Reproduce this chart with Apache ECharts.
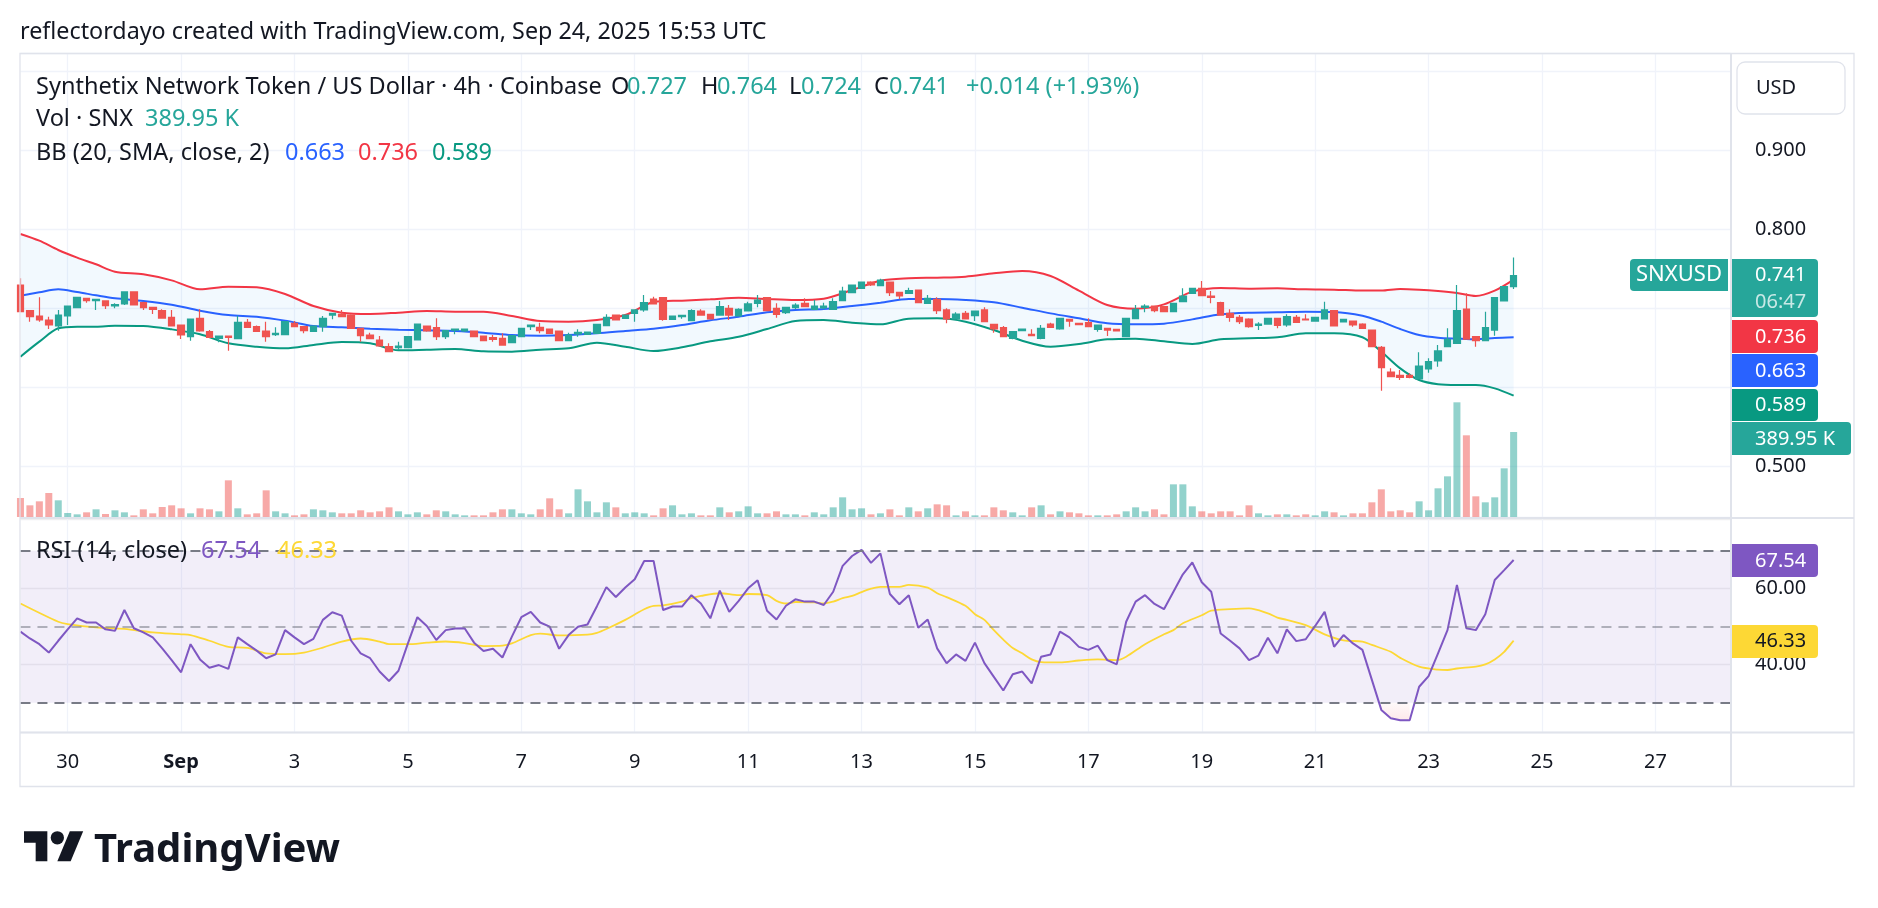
<!DOCTYPE html>
<html>
<head>
<meta charset="utf-8">
<script src="https://cdn.jsdelivr.net/npm/echarts@6/dist/echarts.min.js"></script>
<style>
  html, body { margin: 0; padding: 0; background: #fff; }
  #chart { width: 1878px; height: 908px; }
</style>
</head>
<body>
<div id="chart"></div>
<script>
// SNX/USD 4h, Coinbase, Aug 29 04:00 -> Sep 24 12:00 UTC (bar 0 .. 158)
// [open, high, low, close]
const ohlc = [
  [.7291,.7376,.6950,.6954],[.6966,.6975,.6827,.6890],[.6899,.7135,.6827,.6848],[.6848,.6890,.6734,.6785],[.6772,.6975,.6713,.6911],
  [.6899,.7025,.6785,.7025],[.7004,.7135,.7004,.7135],[.7122,.7131,.7067,.7093],[.7093,.7110,.6975,.7110],[.7089,.7089,.6987,.7030],
  [.7025,.7059,.6996,.7042],[.7051,.7203,.7038,.7203],[.7203,.7203,.7038,.7038],[.7067,.7080,.6975,.7004],[.7008,.7008,.6924,.6983],
  [.6966,.6983,.6865,.6873],[.6882,.6975,.6772,.6772],[.6785,.6785,.6607,.6658],[.6637,.6861,.6586,.6861],[.6869,.6983,.6700,.6709],
  [.6700,.6721,.6629,.6629],[.6616,.6645,.6565,.6645],[.6645,.6645,.6460,.6629],[.6612,.6903,.6612,.6819],[.6819,.6861,.6755,.6755],
  [.6764,.6777,.6705,.6705],[.6709,.6827,.6574,.6637],[.6662,.6755,.6645,.6679],[.6662,.6827,.6662,.6827],[.6806,.6835,.6755,.6764],
  [.6764,.6764,.6679,.6713],[.6705,.6780,.6700,.6772],[.6764,.6899,.6700,.6869],[.6911,.6932,.6856,.6932],[.6920,.6975,.6890,.6890],
  [.6911,.6920,.6738,.6743],[.6743,.6743,.6574,.6650],[.6658,.6688,.6607,.6612],[.6595,.6645,.6510,.6519],[.6510,.6553,.6447,.6447],
  [.6498,.6574,.6468,.6519],[.6498,.6645,.6498,.6637],[.6595,.6797,.6595,.6797],[.6772,.6772,.6700,.6709],[.6751,.6869,.6595,.6637],
  [.6637,.6713,.6607,.6713],[.6721,.6734,.6667,.6734],[.6709,.6734,.6696,.6734],[.6709,.6709,.6637,.6637],[.6645,.6645,.6586,.6586],
  [.6624,.6658,.6574,.6603],[.6616,.6679,.6531,.6531],[.6561,.6650,.6561,.6650],[.6637,.6743,.6637,.6743],[.6764,.6785,.6721,.6785],
  [.6755,.6814,.6679,.6713],[.6734,.6734,.6679,.6679],[.6709,.6709,.6586,.6586],[.6586,.6688,.6586,.6658],[.6671,.6730,.6637,.6692],
  [.6667,.6696,.6667,.6696],[.6679,.6793,.6679,.6793],[.6776,.6920,.6776,.6882],[.6911,.6911,.6848,.6848],[.6869,.6911,.6869,.6911],
  [.6932,.6975,.6827,.6975],[.6975,.7164,.6954,.7067],[.7114,.7143,.7051,.7051],[.7131,.7131,.6840,.6856],[.6856,.6899,.6856,.6899],
  [.6890,.6907,.6865,.6907],[.6840,.6983,.6840,.6966],[.6962,.6983,.6911,.6911],[.6920,.6920,.6861,.6861],[.6911,.7089,.6911,.7017],
  [.6996,.7038,.6848,.6911],[.6899,.6996,.6899,.6983],[.6962,.7080,.6962,.7051],[.7059,.7164,.7008,.7101],[.7131,.7131,.6966,.6966],
  [.6996,.7059,.6878,.6920],[.6941,.7008,.6924,.7008],[.7004,.7059,.6983,.7038],[.7059,.7122,.7017,.7017],[.6983,.7101,.6983,.7025],
  [.7000,.7067,.6983,.7025],[.6983,.7122,.6983,.7080],[.7093,.7270,.7093,.7215],[.7194,.7291,.7194,.7291],[.7249,.7329,.7249,.7329],
  [.7329,.7340,.7280,.7291],[.7283,.7371,.7283,.7354],[.7329,.7329,.7152,.7194],[.7198,.7198,.7114,.7152],[.7186,.7257,.7186,.7220],
  [.7228,.7228,.7067,.7067],[.7059,.7164,.7059,.7122],[.7110,.7135,.6924,.6966],[.6975,.6996,.6806,.6861],[.6861,.6945,.6861,.6924],
  [.6932,.6962,.6861,.6861],[.6903,.6962,.6835,.6962],[.6975,.7008,.6827,.6827],[.6793,.6793,.6688,.6734],[.6751,.6772,.6637,.6637],
  [.6616,.6700,.6603,.6700],[.6713,.6734,.6713,.6734],[.6667,.6730,.6650,.6650],[.6616,.6785,.6603,.6743],[.6797,.6814,.6755,.6755],
  [.6734,.6877,.6725,.6869],[.6856,.6856,.6764,.6835],[.6806,.6814,.6785,.6789],[.6814,.6869,.6764,.6764],[.6730,.6785,.6700,.6785],
  [.6743,.6743,.6645,.6721],[.6730,.6730,.6709,.6709],[.6637,.6869,.6637,.6869],[.6865,.7038,.6865,.6983],[.7008,.7046,.6945,.7025],
  [.7025,.7025,.6945,.6966],[.7017,.7017,.6954,.6954],[.6954,.7059,.6954,.7059],[.7080,.7249,.7080,.7152],[.7186,.7249,.7186,.7249],
  [.7249,.7342,.7156,.7156],[.7152,.7215,.7059,.7135],[.7067,.7080,.6911,.6911],[.6932,.6983,.6827,.6882],[.6882,.6911,.6797,.6827],
  [.6861,.6869,.6751,.6764],[.6781,.6819,.6721,.6797],[.6797,.6869,.6797,.6869],[.6869,.6869,.6743,.6781],[.6785,.6920,.6764,.6890],
  [.6882,.6911,.6819,.6819],[.6861,.6920,.6848,.6848],[.6835,.6882,.6835,.6882],[.6861,.7080,.6861,.6975],[.6966,.6966,.6772,.6772],
  [.6823,.6856,.6823,.6856],[.6835,.6835,.6764,.6785],[.6797,.6806,.6743,.6743],[.6721,.6721,.6510,.6510],[.6502,.6519,.5953,.6245],
  [.6190,.6236,.6131,.6131],[.6148,.6215,.6088,.6122],[.6148,.6173,.6110,.6122],[.6101,.6439,.6101,.6266],[.6228,.6363,.6181,.6321],
  [.6329,.6531,.6257,.6456],[.6510,.6743,.6510,.6603],[.6553,.7291,.6544,.6966],[.6987,.7186,.6607,.6607],[.6637,.6637,.6510,.6586],
  [.6586,.6954,.6586,.6751],[.6721,.7131,.6650,.7131],[.7089,.7280,.7089,.7270],[.727,.764,.724,.741]
];

// volume, thousands of SNX
const volK = [
  87.2,53.5,71.9,110.1,76.5,18.3,12.2,21.4,35.2,13.8, 30.6,21.4,7.6,35.2,16.8,45.9,53.5,39.8,16.8,39.8,
  35.2,26.0,168.2,39.8,12.2,16.8,122.3,26.0,16.8,7.6, 12.2,35.2,30.6,21.4,16.8,16.8,30.6,21.4,26.0,44.3,
  26.0,12.2,21.4,12.2,30.6,26.0,12.2,7.6,7.6,7.6, 21.4,35.2,35.2,16.8,12.2,35.2,85.6,35.2,16.8,126.9,
  71.9,21.4,67.3,44.3,16.8,21.4,16.8,7.6,39.8,53.5, 12.2,16.8,7.6,7.6,44.3,21.4,26.0,48.9,16.8,16.8,
  26.0,12.2,12.2,7.6,21.4,12.2,44.3,90.2,35.2,39.8, 12.2,16.8,35.2,7.6,44.3,26.0,39.8,58.1,53.5,7.6,
  26.0,7.6,7.6,44.3,30.6,21.4,7.6,44.3,53.5,12.2, 26.0,21.4,16.8,7.6,7.6,7.6,12.2,26.0,44.3,26.0,
  35.2,12.2,149.8,149.8,48.9,26.0,16.8,26.0,26.0,7.6, 53.5,16.8,7.6,12.2,12.2,7.6,12.2,7.6,26.0,21.4,
  7.6,16.8,16.8,67.3,126.9,26.0,30.6,21.4,71.9,30.6, 131.5,186.5,526.0,374.6,94.8,67.3,90.2,223.2,389.95
];

// Bollinger Bands (20, SMA, close, 2) read at these bars
const bbIdx = [0,2,4,6,8,10,13,16,19,22,25,28,31,34,37,40,43,46,49,52,55,58,61,64,67,70,73,76,79,82,
  85,88,91,94,97,100,103,106,109,112,115,118,121,124,127,130,133,136,139,142,144,146,148,150,152,154,156,158];
const bbUpper = [.7937,.7852,.7734,.7637,.7553,.7460,.7426,.7350,.7236,.7270,.7262,.7177,.7025,.6941,.6924,
  .6941,.6962,.6954,.6954,.6899,.6835,.6827,.6848,.6911,.7076,.7093,.7110,.7131,.7114,.7101,.7118,.7228,.7346,
  .7376,.7384,.7397,.7439,.7468,.7405,.7220,.7038,.6991,.7046,.7207,.7253,.7245,.7249,.7236,.7232,.7220,.7220,
  .7241,.7232,.7215,.7190,.7152,.7220,.7360];
const bbMid = [.7156,.7198,.7236,.7202,.7160,.7122,.7089,.7042,.6966,.6911,.6890,.6840,.6772,.6755,.6738,
  .6726,.6717,.6709,.6688,.6658,.6650,.6658,.6679,.6709,.6738,.6785,.6844,.6890,.6945,.6975,.6987,.7025,.7067,
  .7114,.7114,.7101,.7072,.7004,.6932,.6869,.6806,.6793,.6802,.6856,.6920,.6941,.6945,.6954,.6950,.6903,.6827,
  .6734,.6658,.6624,.6612,.6603,.6620,.6630];
const bbLower = [.6384,.6574,.6743,.6764,.6764,.6776,.6772,.6730,.6667,.6553,.6510,.6489,.6532,.6569,.6553,
  .6464,.6472,.6481,.6451,.6447,.6472,.6489,.6561,.6510,.6456,.6502,.6578,.6637,.6734,.6835,.6848,.6814,.6793,
  .6865,.6869,.6827,.6721,.6586,.6510,.6544,.6603,.6612,.6578,.6544,.6603,.6616,.6629,.6679,.6679,.6629,.6447,
  .6236,.6088,.6034,.6025,.6025,.5983,.5890];

// RSI (14, close), one value per bar
const rsi14 = [
  48.7,46.9,45.4,43.2,46.3,49.3,52.2,51.1,51.1,49.3, 48.9,54.4,49.6,48.5,47.2,44.3,41.2,38.0,45.4,41.4,
  39.2,39.9,38.9,47.2,45.4,43.7,41.7,42.7,49.1,47.2, 45.4,46.8,51.8,53.8,52.9,46.3,43.0,41.7,38.2,35.7,
  38.4,45.6,52.5,50.2,46.5,49.1,49.5,49.6,45.8,43.6, 44.2,41.9,47.4,52.5,53.9,51.1,50.0,44.2,47.8,50.0,
  50.6,55.4,60.4,57.8,60.3,62.5,67.3,67.3,54.4,55.3, 55.3,58.3,56.1,52.2,59.5,53.9,56.8,60.1,62.2,54.2,
  51.9,55.5,57.2,56.6,56.6,55.7,59.2,66.0,68.6,70.2, 66.8,69.3,58.6,55.9,58.3,49.7,51.9,44.3,40.4,42.7,
  41.0,45.8,40.4,36.8,33.2,37.5,38.2,35.1,42.1,42.7, 48.7,47.2,44.7,43.9,45.0,41.2,40.1,51.3,56.6,58.3,
  56.0,54.6,59.2,63.8,66.9,61.7,59.2,48.2,46.3,44.3, 41.2,42.4,47.1,43.0,49.3,46.2,46.7,50.2,53.9,44.7,
  47.8,45.6,43.9,36.0,28.1,25.9,25.4,25.4,34.2,37.0, 43.0,49.1,61.0,49.6,49.1,53.3,62.3,64.9,67.54
];

// RSI-based MA, [bar, value]
const rsiMa = [[0,56.1],[4,51.3],[5,50.7],[8,49.8],[11,49.4],[14,48.5],[17,48.0],[18,47.8],[20,46.3],[22,44.7],
  [24,44.4],[26,43.0],[28,42.8],[30,43.2],[32,44.5],[34,46.1],[36,46.9],[38,46.1],[39,45.4],[41,45.4],[43,45.8],
  [45,46.1],[47,45.7],[49,44.9],[51,45.0],[52,45.6],[54,47.8],[55,48.2],[57,47.7],[60,47.9],[61,48.4],[62,49.4],
  [64,51.8],[65,53.2],[66,54.6],[67,55.5],[68,55.6],[70,56.6],[71,57.5],[72,58.1],[74,58.8],[76,58.3],[77,58.6],
  [79,58.3],[80,56.8],[81,56.1],[82,56.5],[84,56.4],[85,56.1],[86,56.6],[87,57.5],[88,58.1],[89,59.1],[90,60.0],
  [91,60.5],[93,60.5],[94,61.0],[96,60.3],[97,58.8],[98,57.8],[100,55.5],[101,53.3],[102,51.8],[103,49.1],
  [104,46.6],[105,44.4],[106,43.0],[107,41.4],[108,40.7],[110,40.6],[112,41.1],[114,41.4],[116,41.2],[117,42.1],
  [119,45.4],[121,48.0],[122,49.1],[123,50.9],[125,53.0],[126,54.2],[128,54.6],[130,54.8],[132,53.5],[133,52.4],
  [134,51.8],[136,50.4],[138,48.0],[140,46.4],[142,46.1],[143,45.2],[145,43.4],[146,41.8],[148,39.5],[150,38.7],
  [151,38.6],[152,39.0],[154,39.5],[155,40.1],[156,41.4],[157,43.4],[158,46.33]];

// time axis: bar index of each day-start tick and its text
const tickIdx = [5,17,29,41,53,65,77,89,101,113,125,137,149,161,173];
const tickText = ['30','Sep','3','5','7','9','11','13','15','17','19','21','23','25','27'];

// price-scale labels hidden behind the coloured last-value tags
const hiddenPriceLabels = ['0.600', '0.700', '1.000'];

const FONT = '"Noto Sans", Roboto, sans-serif';
const TXT = '#131722';
const UP = '#26a69a', DOWN = '#ef5350';
const GRIDC = '#f0f3fa';
const LEG = 23.5; // legend font size

const PLOT_L = 20.45, PLOT_R = 1731;
const MAIN_T = 53, MAIN_B = 517, RSI_T = 519, RSI_B = 732;
const NCAT = 182; // visible bar slots incl. empty space on the right

const cats = Array.from({ length: NCAT }, (_, i) => String(i));
const isTick = (i) => tickIdx.indexOf(i) >= 0;

const chart = echarts.init(document.getElementById('chart'), null, { renderer: 'canvas' });

function xAx(grid, labels) {
  return {
    type: 'category', gridIndex: grid, data: cats, boundaryGap: false,
    axisLine: { show: false }, axisTick: { show: false },
    axisLabel: labels ? {
      show: true, interval: (i) => isTick(i), margin: 20,
      fontSize: 20, color: TXT, fontFamily: FONT,
      formatter: (v) => {
        const t = tickText[tickIdx.indexOf(+v)];
        return t === 'Sep' ? '{b|Sep}' : t;
      },
      rich: { b: { fontWeight: 'bold', fontSize: 20, color: TXT, fontFamily: FONT } }
    } : { show: false },
    splitLine: grid === 1 ? { show: false } : { show: true, interval: (i) => isTick(i), lineStyle: { color: GRIDC, width: 1.3 } }
  };
}

function txt(x, y, s, color, size, weight, align) {
  return {
    type: 'text', x: x, y: y, z: 100,
    style: {
      text: s, fill: color, align: align || 'left', verticalAlign: 'middle',
      font: (weight || 'normal') + ' ' + size + 'px ' + FONT
    }
  };
}
function box(x, y, w, h, color, r) {
  return { type: 'rect', z: 99, shape: { x: x, y: y, width: w, height: h, r: r || 0 }, style: { fill: color } };
}
function hline(x1, x2, y, color, w) {
  return { type: 'line', z: 98, shape: { x1: x1, y1: y, x2: x2, y2: y }, style: { stroke: color, lineWidth: w || 1 } };
}
function vline(x, y1, y2, color, w) {
  return { type: 'line', z: 98, shape: { x1: x, y1: y1, x2: x, y2: y2 }, style: { stroke: color, lineWidth: w || 1 } };
}

const LOGO_S = 1.667, LOGO_X = 24, LOGO_Y = 824.5;

const graphics = [
  txt(20, 32, 'reflectordayo created with TradingView.com, Sep 24, 2025 15:53 UTC', TXT, 23.3),
  // frame and pane separators
  { type: 'rect', z: 98, shape: { x: 20, y: 53.5, width: 1834, height: 733 }, style: { fill: null, stroke: '#e0e3eb', lineWidth: 1.3 } },
  vline(1731, 53.5, 786.5, '#e0e3eb', 2),
  hline(20, 1854, 518, '#e0e3eb', 2),
  hline(20, 1854, 732.5, '#e0e3eb', 2),
  // legend
  txt(36, 87, 'Synthetix Network Token / US Dollar · 4h · Coinbase', TXT, LEG),
  txt(611, 87, 'O', TXT, LEG), txt(627, 87, '0.727', UP, LEG),
  txt(701, 87, 'H', TXT, LEG), txt(717, 87, '0.764', UP, LEG),
  txt(789, 87, 'L', TXT, LEG), txt(801, 87, '0.724', UP, LEG),
  txt(874, 87, 'C', TXT, LEG), txt(889, 87, '0.741', UP, LEG),
  txt(966, 87, '+0.014 (+1.93%)', UP, LEG),
  txt(36, 119, 'Vol · SNX', TXT, LEG), txt(145, 119, '389.95 K', UP, LEG),
  txt(36, 153, 'BB (20, SMA, close, 2)', TXT, LEG),
  txt(285, 153, '0.663', '#2962ff', LEG), txt(358, 153, '0.736', '#f23645', LEG), txt(432, 153, '0.589', '#089981', LEG),
  txt(36, 551, 'RSI (14, close)', TXT, LEG),
  txt(201, 551, '67.54', '#7e57c2', LEG), txt(277, 551, '46.33', '#fdd835', LEG),
  // USD button
  { type: 'rect', z: 99, shape: { x: 1737, y: 62, width: 108, height: 52, r: 8 }, style: { fill: '#fff', stroke: '#e0e3eb', lineWidth: 1.3 } },
  txt(1756, 88, 'USD', TXT, 20),
  // symbol + last price
  box(1630, 259, 98, 32, UP, [4, 0, 0, 4]), txt(1679, 275, 'SNXUSD', '#fff', 22, 'normal', 'center'),
  box(1732, 259, 86, 58, UP, [0, 4, 4, 0]), txt(1755, 275, '0.741', '#fff', 20), txt(1755, 302, '06:47', 'rgba(255,255,255,0.75)', 20),
  box(1732, 320, 86, 33, '#f23645', [0, 4, 4, 0]), txt(1755, 337, '0.736', '#fff', 20),
  box(1732, 354, 86, 33, '#2962ff', [0, 4, 4, 0]), txt(1755, 371, '0.663', '#fff', 20),
  box(1732, 389, 86, 32, '#089981', [0, 4, 4, 0]), txt(1755, 405, '0.589', '#fff', 20),
  box(1732, 422, 119, 33, UP, [0, 4, 4, 0]), txt(1755, 439, '389.95 K', '#fff', 20),
  box(1732, 544, 86, 33, '#7e57c2', [0, 4, 4, 0]), txt(1755, 561, '67.54', '#fff', 20),
  box(1732, 625, 86, 33, '#fdd835', [0, 4, 4, 0]), txt(1755, 641, '46.33', TXT, 20),
  // TradingView logo
  {
    type: 'polygon', z: 100, x: LOGO_X, y: LOGO_Y, scaleX: LOGO_S, scaleY: LOGO_S,
    shape: { points: [[0, 4], [14, 4], [14, 22], [7, 22], [7, 11], [0, 11]] }, style: { fill: TXT }
  },
  {
    type: 'polygon', z: 100, x: LOGO_X, y: LOGO_Y, scaleX: LOGO_S, scaleY: LOGO_S,
    shape: { points: [[20, 22], [27.5, 4], [35.5, 4], [28, 22]] }, style: { fill: TXT }
  },
  { type: 'circle', z: 100, shape: { cx: LOGO_X + 20 * LOGO_S, cy: LOGO_Y + 8 * LOGO_S, r: 4 * LOGO_S }, style: { fill: TXT } },
  txt(94, 851, 'TradingView', TXT, 40, 'bold')
];

const option = {
  backgroundColor: '#ffffff',
  animation: false,
  textStyle: { fontFamily: FONT },
  grid: [
    { left: PLOT_L, width: PLOT_R - PLOT_L, top: MAIN_T, height: MAIN_B - MAIN_T },
    { left: PLOT_L, width: PLOT_R - PLOT_L, top: MAIN_T, height: MAIN_B - MAIN_T },
    { left: PLOT_L, width: PLOT_R - PLOT_L, top: RSI_T, height: RSI_B - RSI_T }
  ],
  xAxis: [xAx(0, false), xAx(1, false), xAx(2, true)],
  yAxis: [
    {
      type: 'value', gridIndex: 0, position: 'right', min: 0.43544, max: 1.02278, splitNumber: 6,
      axisLine: { show: false }, axisTick: { show: false },
      axisLabel: {
        showMinLabel: false, showMaxLabel: false, margin: 24, fontSize: 20, color: TXT, fontFamily: FONT,
        formatter: (v) => { const s = v.toFixed(3); return hiddenPriceLabels.indexOf(s) >= 0 ? '' : s; }
      },
      splitLine: { lineStyle: { color: GRIDC, width: 1.3 } }
    },
    { type: 'value', gridIndex: 1, min: 0, max: 2128, show: false, splitLine: { show: false } },
    {
      type: 'value', gridIndex: 2, position: 'right', min: 22.29, max: 78.34, splitNumber: 3,
      axisLine: { show: false }, axisTick: { show: false },
      axisLabel: { showMinLabel: false, showMaxLabel: false, margin: 24, fontSize: 20, color: TXT, fontFamily: FONT, formatter: (v) => v.toFixed(2) },
      splitLine: { lineStyle: { color: 'rgba(120,123,134,0.12)', width: 1.3 } }
    }
  ],
  graphic: graphics,
  series: [
    {
      name: 'Volume', type: 'bar', xAxisIndex: 1, yAxisIndex: 1, barWidth: 7, z: 1, silent: true,
      data: volK.map((v, i) => ({
        value: v,
        itemStyle: { color: ohlc[i][3] >= ohlc[i][0] ? 'rgba(38,166,154,0.5)' : 'rgba(239,83,80,0.5)' }
      }))
    },
    {
      name: 'bbBase', type: 'line', xAxisIndex: 0, yAxisIndex: 0, stack: 'bb', symbol: 'none', smooth: 0.3, z: 1, silent: true,
      lineStyle: { opacity: 0 }, data: bbIdx.map((x, k) => [x, bbLower[k]])
    },
    {
      name: 'bbBand', type: 'line', xAxisIndex: 0, yAxisIndex: 0, stack: 'bb', symbol: 'none', smooth: 0.3, z: 1, silent: true,
      lineStyle: { opacity: 0 }, areaStyle: { color: 'rgba(33,150,243,0.06)', opacity: 1 },
      data: bbIdx.map((x, k) => [x, +(bbUpper[k] - bbLower[k]).toFixed(4)])
    },
    {
      name: 'BB upper', type: 'line', xAxisIndex: 0, yAxisIndex: 0, symbol: 'none', smooth: 0.3, z: 3,
      lineStyle: { color: '#f23645', width: 2 }, data: bbIdx.map((x, k) => [x, bbUpper[k]])
    },
    {
      name: 'BB basis', type: 'line', xAxisIndex: 0, yAxisIndex: 0, symbol: 'none', smooth: 0.3, z: 3,
      lineStyle: { color: '#2962ff', width: 2 }, data: bbIdx.map((x, k) => [x, bbMid[k]])
    },
    {
      name: 'BB lower', type: 'line', xAxisIndex: 0, yAxisIndex: 0, symbol: 'none', smooth: 0.3, z: 3,
      lineStyle: { color: '#089981', width: 2 }, data: bbIdx.map((x, k) => [x, bbLower[k]])
    },
    {
      name: 'SNXUSD', type: 'candlestick', xAxisIndex: 0, yAxisIndex: 0, barWidth: 7, z: 4,
      itemStyle: { color: UP, color0: DOWN, borderColor: UP, borderColor0: DOWN, borderWidth: 1.2 },
      data: ohlc.map((r) => [r[0], r[3], r[2], r[1]])
    },
    {
      name: 'RSI', type: 'line', xAxisIndex: 2, yAxisIndex: 2, symbol: 'none', z: 4,
      lineStyle: { color: '#7e57c2', width: 2 }, data: rsi14,
      markArea: { silent: true, itemStyle: { color: 'rgba(126,87,194,0.1)' }, data: [[{ yAxis: 30 }, { yAxis: 70 }]] },
      markLine: {
        silent: true, symbol: 'none', label: { show: false },
        data: [
          { yAxis: 70, lineStyle: { color: '#787b86', type: [10, 7], width: 2 } },
          { yAxis: 50, lineStyle: { color: 'rgba(120,123,134,0.55)', type: [10, 7], width: 2 } },
          { yAxis: 30, lineStyle: { color: '#787b86', type: [10, 7], width: 2 } }
        ]
      }
    },
    {
      // oversold shading between the RSI line and the 30 level
      name: 'RSI oversold', type: 'line', xAxisIndex: 2, yAxisIndex: 2, symbol: 'none', z: 2, silent: true,
      lineStyle: { opacity: 0 },
      areaStyle: { origin: 30, color: new echarts.graphic.LinearGradient(0, 0, 0, 1, [
        { offset: 0, color: 'rgba(242,54,69,0.04)' }, { offset: 1, color: 'rgba(242,54,69,0.16)' }]) },
      data: rsi14.map((v, i) => (v < 30 ? [i, v] : null)).filter(Boolean)
    },
    {
      name: 'RSI MA', type: 'line', xAxisIndex: 2, yAxisIndex: 2, symbol: 'none', smooth: 0.3, z: 3,
      lineStyle: { color: '#fdd835', width: 1.8 }, data: rsiMa
    }
  ]
};

chart.setOption(option);
</script>
</body>
</html>
